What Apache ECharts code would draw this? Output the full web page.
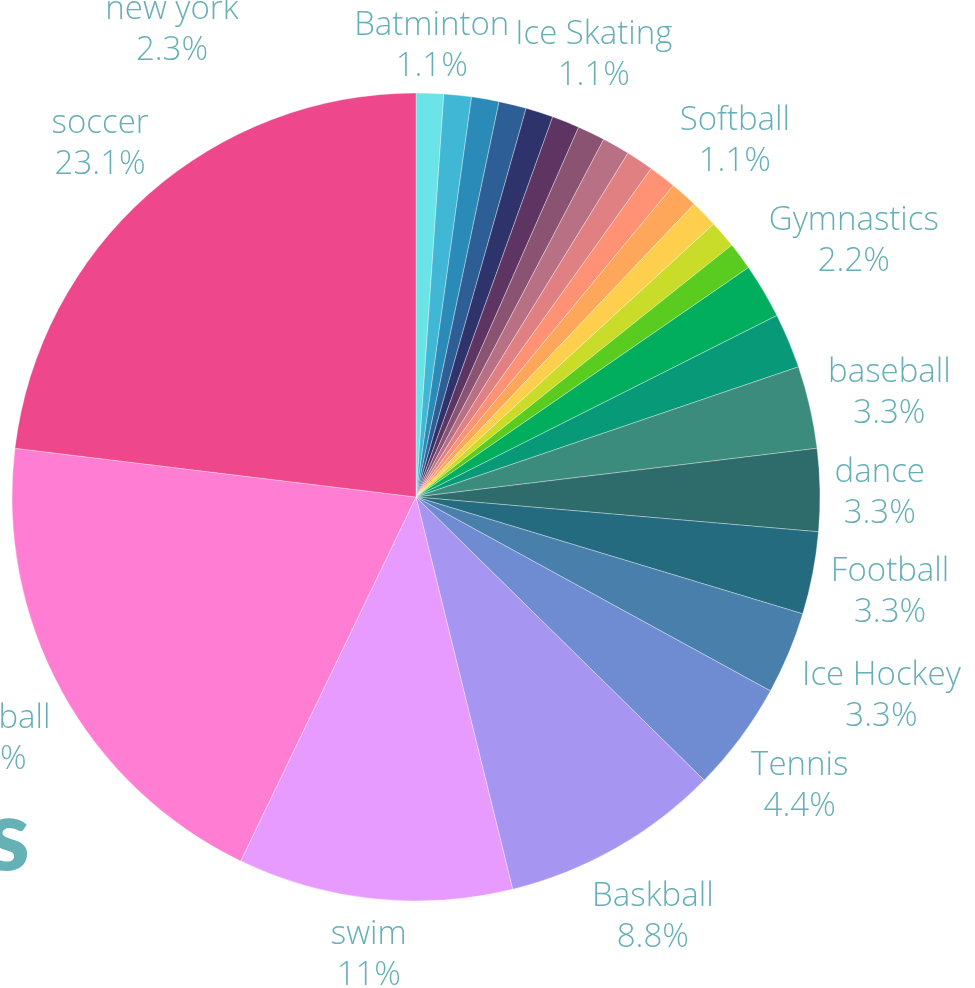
<!DOCTYPE html>
<html><head><meta charset="utf-8">
<script src="https://cdn.jsdelivr.net/npm/echarts/dist/echarts.min.js"></script>
<style>html,body{margin:0;padding:0;background:#fff;overflow:hidden}#c{width:975px;height:988px}</style>
</head><body><div id="c"></div>
<script>
// Slices in clockwise order from 12 o'clock
const names = ['Batminton','Archery','Bowling','Boxing','Cycling','Ice Skating','Fencing','Golf','Karate','Rowing','Softball','Rugby','Surfing','Wrestling','Gymnastics','Running','baseball','dance','Football','Ice Hockey','Tennis','Baskball','swim','Volleyball','soccer'];
const values = [1,1,1,1,1,1,1,1,1,1,1,1,1,1,2,2,3,3,3,3,4,8,10,18,21];
const colors = ['#6ae4e6','#41b7d6','#2a8bb8','#2e5e96','#2f336b','#5e3562','#8b5372','#b87084','#e08082','#ff9174','#fea65a','#fdcf4d','#c9dc2a','#5acc20','#00ae5e','#089a78','#3c8c7e','#2e6b6b','#246b80','#487fab','#6f8bd2','#a695f1','#e79bff','#ff7dd3','#ef478b'];
const hiddenLabels = ['Archery','Bowling','Boxing','Cycling','Fencing','Golf','Karate','Rowing','Rugby','Surfing','Wrestling','Running'];
const extraNames = ['new york'];
const extraPercents = ['2.3%'];
const titleText = 'Sports';

const CX = 416, CY = 497, R = 404, LABEL_R = 418;
const LABEL_COLOR = '#65afb7';
const LABEL_FONT = '"Open Sans", "Noto Sans", sans-serif';
const total = values.reduce((a, b) => a + b, 0);
const mids = [];
let acc = 0;
values.forEach(v => { mids.push((acc + v / 2) / total * 2 * Math.PI); acc += v; });
function pct(v) {
  let s = (v / total * 100).toFixed(1);
  if (s.endsWith('.0')) s = s.slice(0, -2);
  return s + '%';
}

const data = names.map((n, i) => ({
  name: n,
  value: values[i],
  itemStyle: { color: colors[i] },
  label: { show: hiddenLabels.indexOf(n) < 0 }
}));

const chart = echarts.init(document.getElementById('c'), null, { renderer: 'canvas' });
chart.setOption({
  animation: false,
  backgroundColor: '#ffffff',
  graphic: [
    {
      type: 'text', x: 30, y: 838,
      style: { text: titleText, textAlign: 'right', textVerticalAlign: 'middle', fill: '#65b1b6',
               font: '900 100px Lato, "DejaVu Sans", sans-serif' }
    },
    {
      type: 'text', x: 172, y: 30,
      style: { text: extraNames[0] + '\n' + extraPercents[0], textAlign: 'center', textVerticalAlign: 'middle',
               fill: LABEL_COLOR, fontSize: 33, fontWeight: 300, fontFamily: LABEL_FONT, lineHeight: 41 }
    }
  ],
  series: [{
    type: 'pie',
    center: [CX, CY],
    radius: R,
    startAngle: 90,
    clockwise: true,
    avoidLabelOverlap: false,
    silent: true,
    itemStyle: { borderColor: 'rgba(255,255,255,0.55)', borderWidth: 0.6 },
    label: {
      show: true,
      position: 'outside',
      color: LABEL_COLOR,
      fontSize: 33,
      fontWeight: 300,
      fontFamily: LABEL_FONT,
      lineHeight: 41,
      align: 'center',
      formatter: p => p.name + '\n' + pct(p.value)
    },
    labelLine: { show: false },
    labelLayout: function (p) {
      const a = mids[p.dataIndex];
      const ux = Math.sin(a), uy = -Math.cos(a);
      const w = p.labelRect.width, h = p.labelRect.height - 12;
      const d = LABEL_R + w / 2 * Math.abs(ux) + h / 2 * Math.abs(uy);
      return { x: CX + d * ux, y: CY + d * uy + 4, align: 'center', verticalAlign: 'middle' };
    },
    data: data
  }]
});
</script>
</body></html>
